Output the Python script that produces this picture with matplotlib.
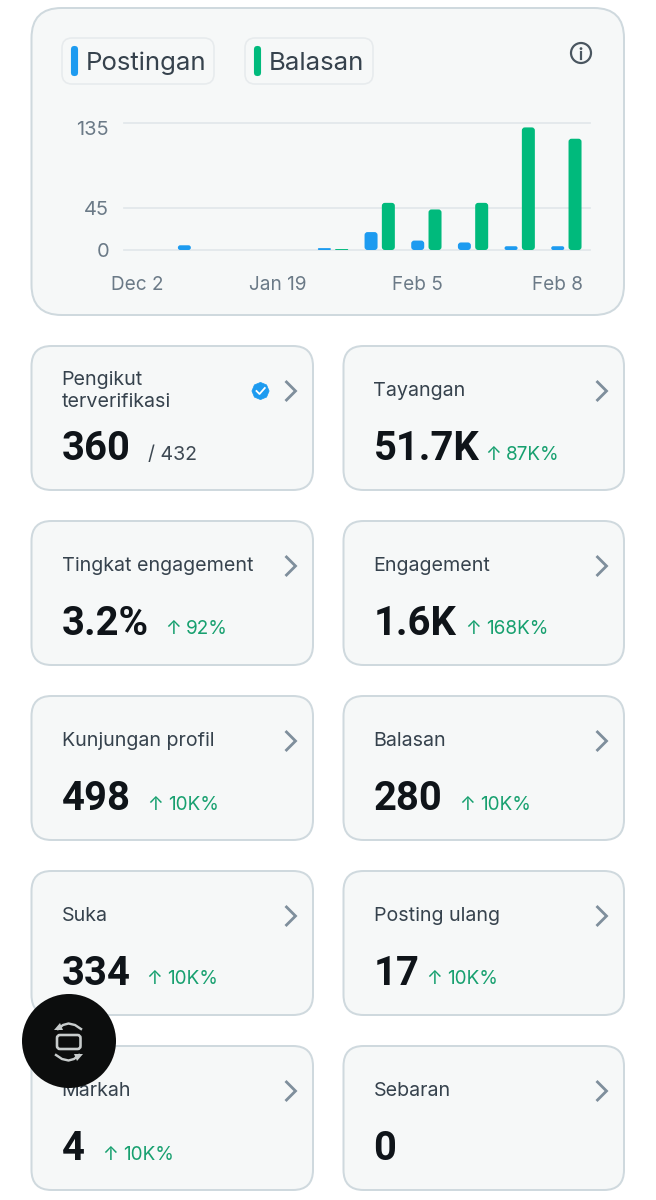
# X analytics overview screenshot: bar chart card plus metric tiles
import matplotlib
matplotlib.use("Agg")
import matplotlib.pyplot as plt
from matplotlib.patches import FancyBboxPatch, Circle, RegularPolygon, Polygon
from matplotlib.transforms import ScaledTranslation

plt.rcParams['font.family'] = ['Inter', 'DejaVu Sans']

W, H = 656, 1200

# chart data
days = ['Dec 2', '', '', 'Jan 19', '', '', 'Feb 5', '', '', 'Feb 8']
posts = [0, 5, 0, 0, 2, 19, 10, 8, 4, 4]
replies = [0, 0, 0, 0, 1, 50, 43, 50, 130, 118]
y_ticks = [0, 45, 135]
legend_names = ['Postingan', 'Balasan']

# tiles, row by row
titles = ['Pengikut\nterverifikasi', 'Tayangan', 'Tingkat engagement', 'Engagement',
          'Kunjungan profil', 'Balasan', 'Suka', 'Posting ulang', 'Markah', 'Sebaran']
values = ['360', '51.7K', '3.2%', '1.6K', '498', '280', '334', '17', '4', '0']
changes = ['/ 432', '87K%', '92%', '168K%', '10K%', '10K%', '10K%', '10K%', '10K%', '']

# where the second text of each tile starts, px
change_left = [148, 485, 165, 465, 147, 459, 146, 426, 102, 0]

BLUE = '#1d9bf0'
GREEN = '#00ba7c'
CARD = '#f6f8f8'
BORDER = '#cfd9de'
INK = '#0f1419'
LABEL = '#36424d'
MUTED = '#6b7a87'
UP = '#17a06f'
ICON = '#c8cccc'


def px(size):
    return size * 72 / 100


def card(ax, x0, y0, x1, y1, r, face=CARD, edge=BORDER, lw=2.0, z=1):
    box = FancyBboxPatch((x0 + r, y0 + r), x1 - x0 - 2 * r, y1 - y0 - 2 * r,
                         boxstyle='round,pad=%f,rounding_size=%f' % (r, r),
                         fc=face, ec=edge, lw=px(lw), zorder=z)
    ax.add_patch(box)


def rounded_bar(ax, x, h, w, color, aspect, r):
    if h <= 0:
        return
    r = min(r, h / aspect / 2)
    bar = FancyBboxPatch((x - w / 2, 0), w, h,
                         boxstyle='round,pad=0,rounding_size=%f' % r,
                         mutation_aspect=aspect, fc=color, ec='none', zorder=3)
    ax.add_patch(bar)


fig = plt.figure(figsize=(W / 100, H / 100), dpi=100, facecolor='white')
bg = fig.add_axes([0, 0, 1, 1])
bg.set_xlim(0, W)
bg.set_ylim(H, 0)
bg.axis('off')

# top card with legend chips
card(bg, 31.5, 8, 624, 315, 30)
chip_x = [(62, 214), (245, 373)]
for name, (x0, x1), col in zip(legend_names, chip_x, [BLUE, GREEN]):
    card(bg, x0, 38, x1, 84, 10, edge='#e7ebed', lw=1.6, z=2)
    card(bg, x0 + 9, 46, x0 + 16, 76, 3.4, face=col, edge=col, lw=0.1, z=3)
    bg.text(x0 + 24, 63, name, fontsize=px(25.8), color=LABEL, va='center', zorder=3)

# info icon
bg.add_patch(Circle((581, 53), 10, fc='none', ec='#4a5660', lw=px(2.2), zorder=3))
bg.add_patch(Circle((581, 48.6), 1.4, fc='#4a5660', ec='none', zorder=3))
bg.plot([581, 581], [52, 58.5], color='#4a5660', lw=px(2.2), zorder=3)

# chart, placed so one category step is 46.67 px
left, right, top, bottom = 124, 590, 122.7, 250
chart = fig.add_axes([left / W, 1 - bottom / H, (right - left) / W, (bottom - top) / H])
chart.patch.set_alpha(0)
step = 46.67
chart.set_xlim((left - 137.7) / step, (right - 137.7) / step)
chart.set_ylim(0, 135)
aspect = step / ((bottom - top) / 135)
for i, (p, g) in enumerate(zip(posts, replies)):
    rounded_bar(chart, i, p, 13 / step, BLUE, aspect, 3 / step)
    rounded_bar(chart, i + 17.3 / step, g, 13 / step, GREEN, aspect, 3 / step)
for s in chart.spines.values():
    s.set_visible(False)
chart.set_yticks(y_ticks, [str(v) for v in y_ticks])
chart.set_xticks([i for i, d in enumerate(days) if d], [d for d in days if d])
chart.tick_params(axis='y', length=0, pad=px(15), labelsize=px(20), labelcolor=MUTED)
chart.tick_params(axis='x', length=0, pad=px(26), labelsize=px(19), labelcolor=MUTED)
chart.grid(axis='y', color='#e3e8eb', lw=px(1.8), zorder=1, clip_on=False)
chart.set_axisbelow(True)

# top label sits below its gridline in the screenshot
lab = chart.get_yticklabels()[-1]
lab.set_transform(lab.get_transform() + ScaledTranslation(0, -5 / 100, fig.dpi_scale_trans))

# metric tiles
fig.canvas.draw()
renderer = fig.canvas.get_renderer()
col_x = [(31.5, 313), (343.5, 624)]
row_y = [346, 521, 696, 871, 1046]
for i, (title, value, change) in enumerate(zip(titles, values, changes)):
    x0, x1 = col_x[i % 2]
    y0 = row_y[i // 2]
    card(bg, x0, y0, x1, y0 + 144, 20)
    tx = x0 + 30
    bg.text(tx, y0 + 45, title, fontsize=px(19.7), color=LABEL, va='center', linespacing=1.22, zorder=3)
    bg.text(tx, y0 + 114, value, fontsize=px(40), fontweight='bold', color=INK,
            family=['Roboto', 'DejaVu Sans'], zorder=3)
    if change.startswith('/'):
        bg.text(change_left[i], y0 + 114.5, change, fontsize=px(19.5), color='#3d4852', zorder=3)
    elif change:
        arrow = bg.text(change_left[i], y0 + 113.5, '↑', fontsize=px(19), color=UP, zorder=3)
        bg.text(arrow.get_window_extent(renderer).x1 + 5, y0 + 113.5, change,
                fontsize=px(19), color=UP, zorder=3)
    # chevron
    cx = x1 - 22
    bg.plot([cx - 4.5, cx + 4.5, cx - 4.5], [y0 + 36, y0 + 45, y0 + 54], color='#7f8f9c',
            lw=px(2.8), solid_joinstyle='miter', zorder=3)

# verified badge on the first tile
bg.add_patch(RegularPolygon((260.5, 391), 8, radius=8.6, fc=BLUE, ec=BLUE, lw=0.5, zorder=3))
bg.plot([256.5, 259.5, 264.8], [391, 394, 388], color='white', lw=px(1.8), zorder=4)

# floating black button
bg.add_patch(Circle((69, 1041), 47, fc='#0c0d0d', ec='none', zorder=6))
card(bg, 57, 1035, 80.5, 1049, 3, face='none', edge=ICON, lw=2.6, z=7)
bg.plot([58, 63, 68.5, 75, 81], [1029, 1025, 1023.5, 1025, 1029], color=ICON, lw=px(2.4), zorder=7)
bg.plot([56, 62, 68.5, 74, 79], [1055, 1059, 1060.5, 1059, 1055], color=ICON, lw=px(2.4), zorder=7)
bg.add_patch(Polygon([(54, 1030), (63, 1030), (60, 1023)], fc=ICON, ec='none', zorder=7))
bg.add_patch(Polygon([(74, 1054), (83, 1054), (77, 1061)], fc=ICON, ec='none', zorder=7))

fig.savefig('out.png', dpi=100)
